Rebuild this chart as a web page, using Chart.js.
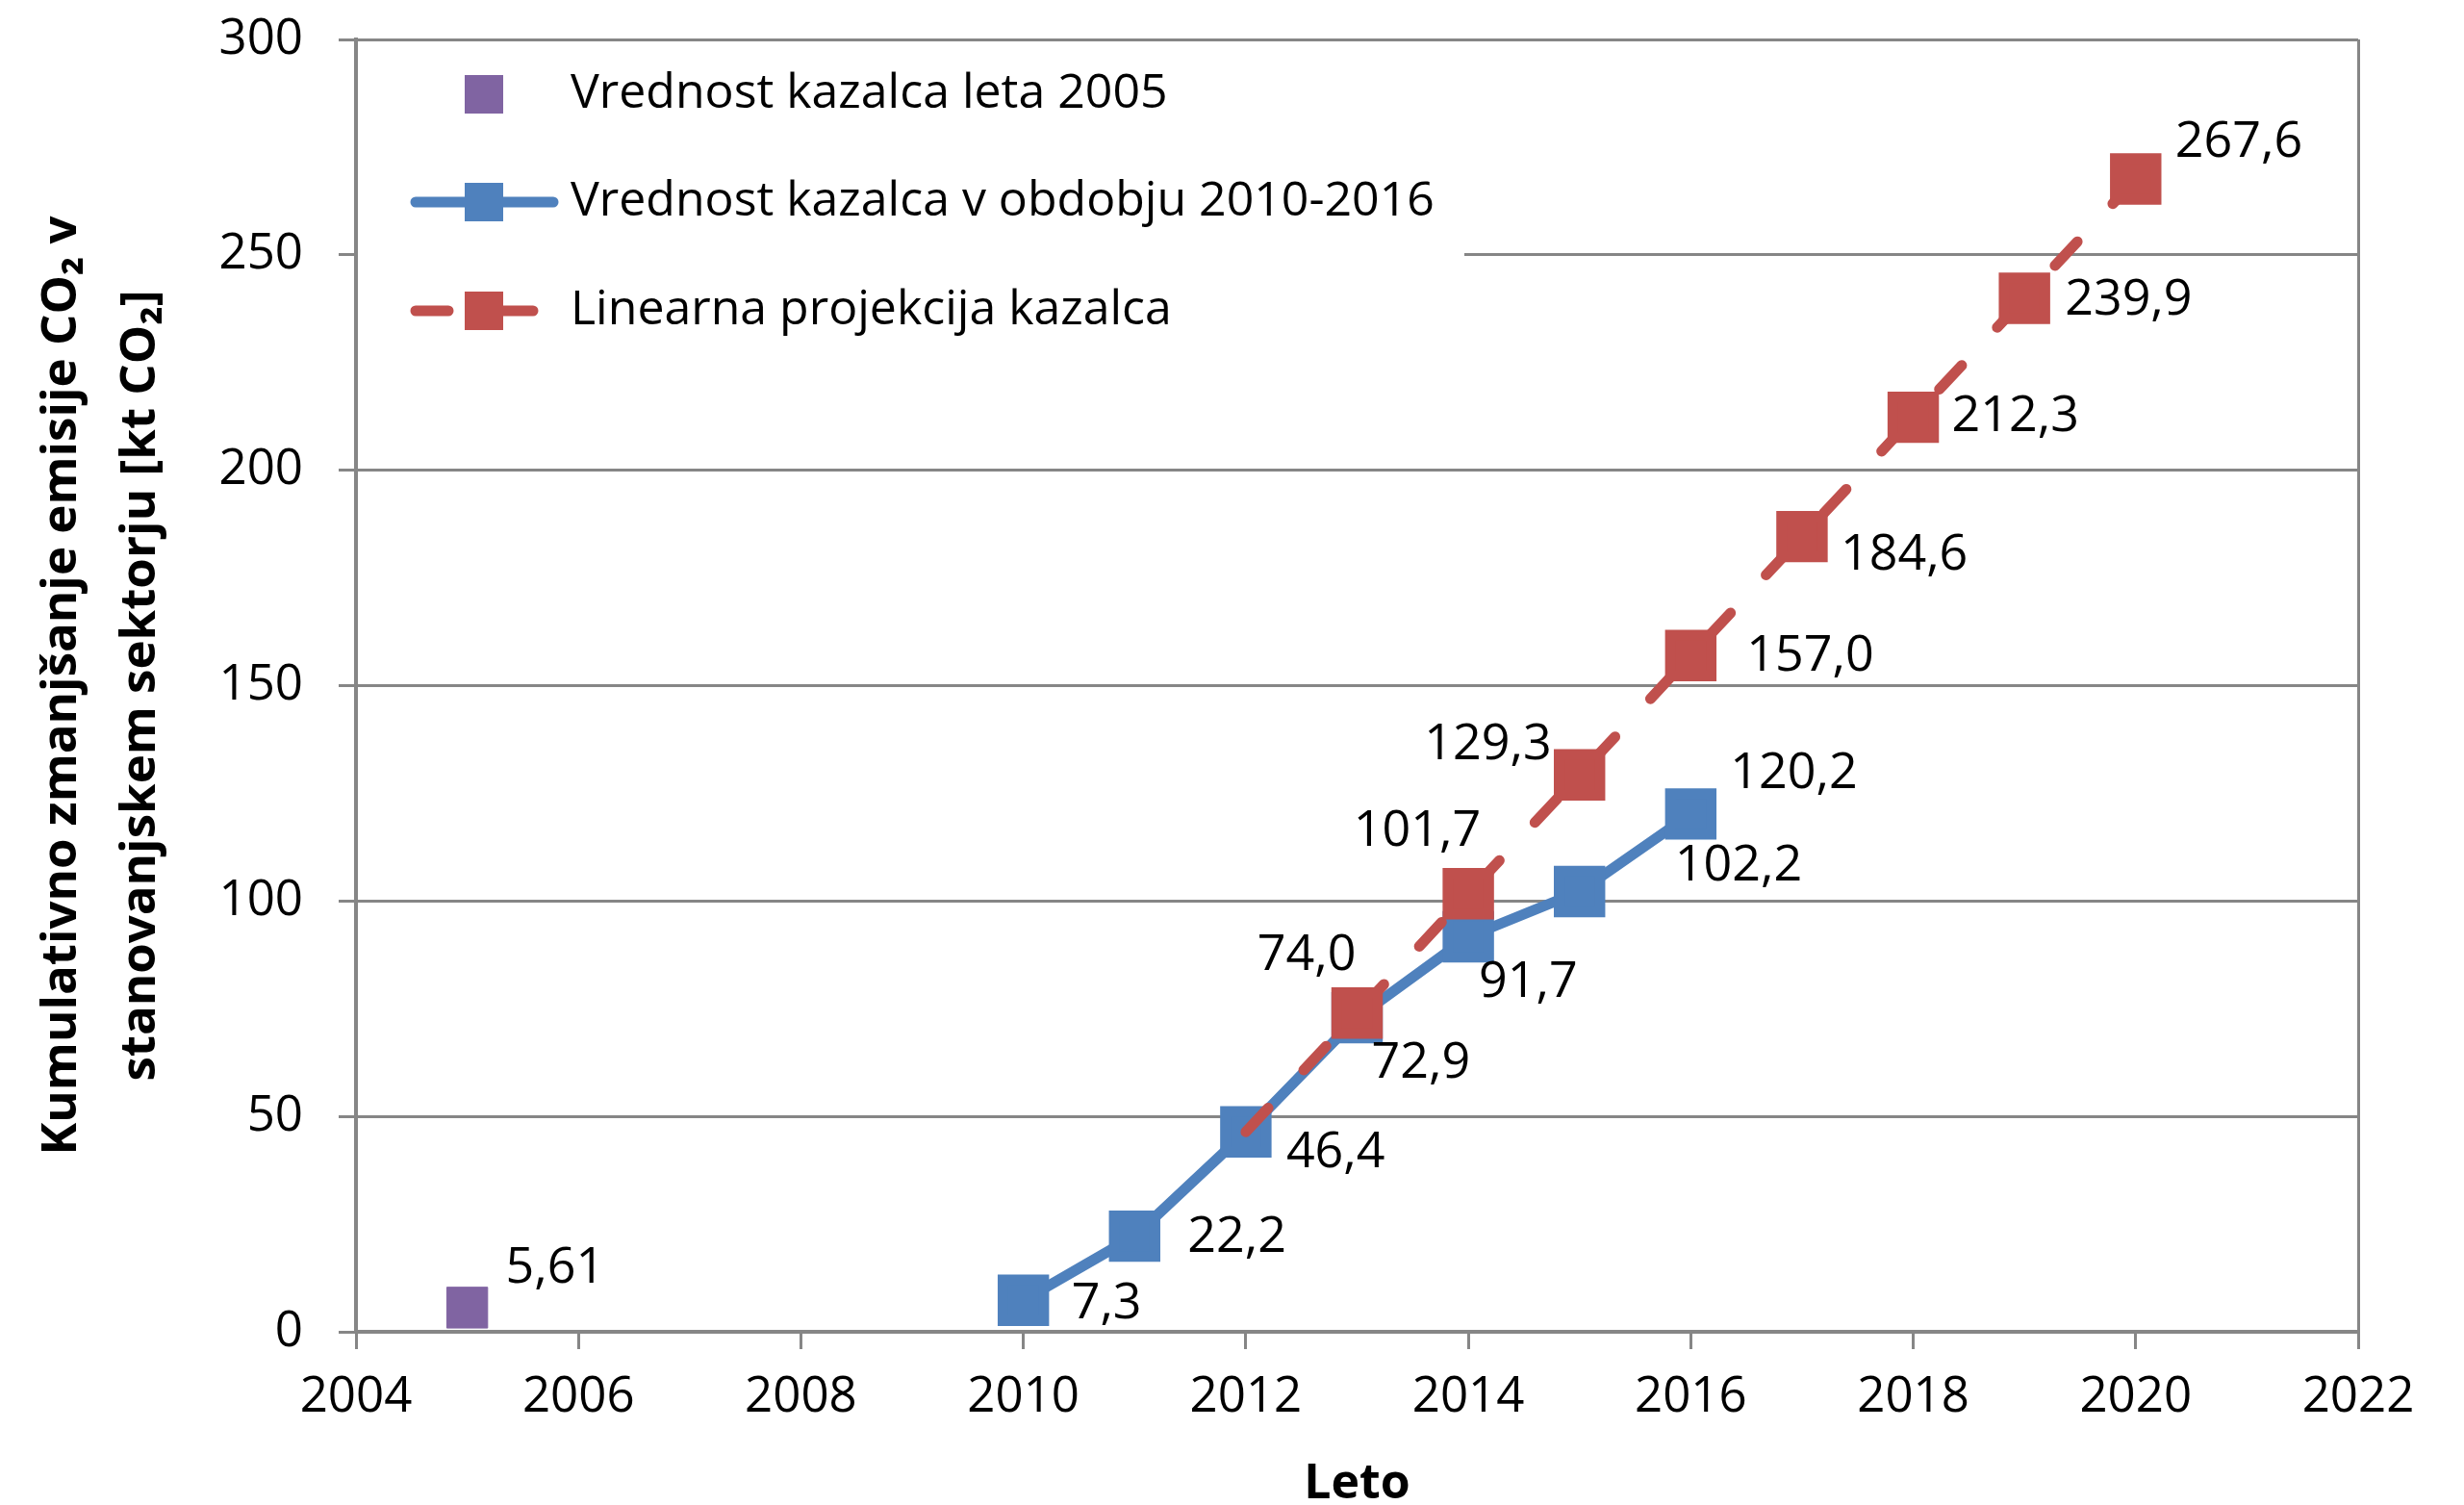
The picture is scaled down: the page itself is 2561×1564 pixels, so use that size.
<!DOCTYPE html>
<html>
<head>
<meta charset="utf-8">
<script src="https://cdn.jsdelivr.net/npm/chart.js@4.4.1/dist/chart.umd.min.js"></script>
<style>
  body { margin: 0; background: #fff; }
  canvas { display: block; }
</style>
</head>
<body>
<canvas id="graf" width="2561" height="1564"></canvas>
<script>
// podatki
var leta2005 = [2005];
var vrednost2005 = [5.61];
var letaObdobje = [2010, 2011, 2012, 2013, 2014, 2015, 2016];
var vrednostObdobje = [7.3, 22.2, 46.4, 72.9, 91.7, 102.2, 120.2];
var letaProjekcija = [2012, 2013, 2014, 2015, 2016, 2017, 2018, 2019, 2020];
var vrednostProjekcija = [46.4, 74.0, 101.7, 129.3, 157.0, 184.6, 212.3, 239.9, 267.6];

var imenaSerij = [
    'Vrednost kazalca leta 2005',
    'Vrednost kazalca v obdobju 2010-2016',
    'Linearna projekcija kazalca'
];
var naslovY = ['Kumulativno zmanjšanje emisije CO\u2082 v', 'stanovanjskem sektorju [kt CO\u2082]'];
var naslovX = 'Leto';

// polozaji oznak (poravnava, dx, dy) v pikslih
var oznake2005 = [['left', 40, -41]];
var oznakeObdobje = [
    ['left', 50, 4], ['left', 55, 2], ['left', 42, 22], ['left', 15, 48],
    ['left', 11, 48], ['left', 99, -26], ['left', 41, -42]
];
var oznakeProjekcija = [
    null, ['right', -1, -60], ['right', 13, -65], ['right', -29, -31],
    ['left', 58, 1], ['left', 40, 20], ['left', 40, 0], ['left', 42, 2], ['left', 41, -38]
];

var siva = '#868686';
var vijolicna = '#8064A2';
var modra = '#4F81BD';
var rdeca = '#C0504D';
var pisava = "'Open Sans', sans-serif";

Chart.defaults.font.family = pisava;
Chart.defaults.color = '#000';

function tocke(x, y) {
    var out = [];
    for (var i = 0; i < x.length; i++) out.push({ x: x[i], y: y[i] });
    return out;
}

function vejica(v, dec) {
    return v.toFixed(dec).replace('.', ',');
}

// oznake podatkov
var oznakePlugin = {
    id: 'oznake',
    afterDatasetsDraw: function (chart) {
        var ctx = chart.ctx;
        ctx.save();
        ctx.font = '52px ' + pisava;
        ctx.fillStyle = '#000';
        ctx.textBaseline = 'middle';
        chart.data.datasets.forEach(function (ds, i) {
            var meta = chart.getDatasetMeta(i);
            meta.data.forEach(function (pt, j) {
                var p = ds.oznake[j];
                if (!p) return;
                ctx.textAlign = p[0];
                ctx.fillText(vejica(ds.data[j].y, ds.decimalke), pt.x + p[1], pt.y + p[2]);
            });
        });
        ctx.restore();
    }
};

// legenda v risalni povrsini
var legendaPlugin = {
    id: 'legenda',
    beforeDatasetsDraw: function (chart) {
        var ctx = chart.ctx;
        var a = chart.chartArea;
        ctx.save();
        ctx.fillStyle = '#fff';
        ctx.fillRect(a.left + 2, a.top + 2, 1150, 358);
        var vrstice = [98, 210, 323];
        chart.data.datasets.forEach(function (ds, i) {
            var y = vrstice[i];
            if (ds.showLine !== false) {
                ctx.strokeStyle = ds.borderColor;
                ctx.lineWidth = ds.borderWidth;
                ctx.lineCap = 'round';
                ctx.setLineDash(ds.borderDash || []);
                ctx.beginPath();
                ctx.moveTo(432, y);
                ctx.lineTo(575, y);
                ctx.stroke();
                ctx.setLineDash([]);
            }
            ctx.fillStyle = ds.pointBackgroundColor;
            ctx.fillRect(503 - 20, y - 20, 40, 40);
            ctx.fillStyle = '#000';
            ctx.font = '50px ' + pisava;
            ctx.textAlign = 'left';
            ctx.textBaseline = 'middle';
            ctx.fillText(ds.label, 593, y);
        });
        ctx.restore();
    }
};

var ctx = document.getElementById('graf').getContext('2d');
var graf = new Chart(ctx, {
    type: 'line',
    data: {
        datasets: [{
            label: imenaSerij[0],
            data: tocke(leta2005, vrednost2005),
            showLine: false,
            pointStyle: 'rect',
            pointRadius: 30,
            pointBackgroundColor: vijolicna,
            pointBorderColor: vijolicna,
            decimalke: 2,
            oznake: oznake2005,
            order: 2
        }, {
            label: imenaSerij[1],
            data: tocke(letaObdobje, vrednostObdobje),
            borderColor: modra,
            borderWidth: 11,
            borderCapStyle: 'round',
            borderJoinStyle: 'round',
            pointStyle: 'rect',
            pointRadius: 30,
            pointBackgroundColor: modra,
            pointBorderColor: modra,
            decimalke: 1,
            oznake: oznakeObdobje,
            order: 1
        }, {
            label: imenaSerij[2],
            data: tocke(letaProjekcija, vrednostProjekcija),
            borderColor: rdeca,
            borderWidth: 11,
            borderDash: [34, 54],
            borderCapStyle: 'round',
            pointStyle: 'rect',
            pointRadius: function (c) { return c.dataIndex === 0 ? 0 : 30; },
            pointBackgroundColor: rdeca,
            pointBorderColor: rdeca,
            decimalke: 1,
            oznake: oznakeProjekcija,
            order: 0
        }]
    },
    options: {
        responsive: false,
        animation: false,
        layout: { padding: { top: 40, right: 110, left: 0, bottom: 0 } },
        plugins: {
            legend: { display: false },
            tooltip: { enabled: false }
        },
        scales: {
            x: {
                type: 'linear',
                min: 2004,
                max: 2022,
                afterFit: function (s) { s.height = 180; },
                ticks: {
                    stepSize: 2,
                    padding: 20,
                    font: { size: 51 },
                    callback: function (v) { return String(v); }
                },
                grid: {
                    color: function (c) { return c.tick && c.tick.value === 2022 ? siva : 'rgba(0,0,0,0)'; },
                    tickColor: siva,
                    lineWidth: 3,
                    tickLength: 18
                },
                border: { color: siva, width: 4 },
                title: {
                    display: true,
                    text: naslovX,
                    font: { size: 50, weight: 'bold', lineHeight: 0.84 },
                    padding: { top: 0, bottom: 0 }
                }
            },
            y: {
                min: 0,
                max: 300,
                afterFit: function (s) {
                    s.width = 370;
                    s.paddingTop = 0;
                    s.paddingBottom = 0;
                },
                ticks: {
                    stepSize: 50,
                    padding: 37,
                    font: { size: 51 }
                },
                grid: {
                    color: siva,
                    tickColor: siva,
                    lineWidth: 3,
                    tickLength: 18
                },
                border: { color: siva, width: 4 },
                title: {
                    display: true,
                    text: naslovY,
                    font: { size: 51, weight: 'bold', lineHeight: 1.6 },
                    padding: { top: 24, bottom: 0 }
                }
            }
        }
    },
    plugins: [legendaPlugin, oznakePlugin]
});
</script>
</body>
</html>
